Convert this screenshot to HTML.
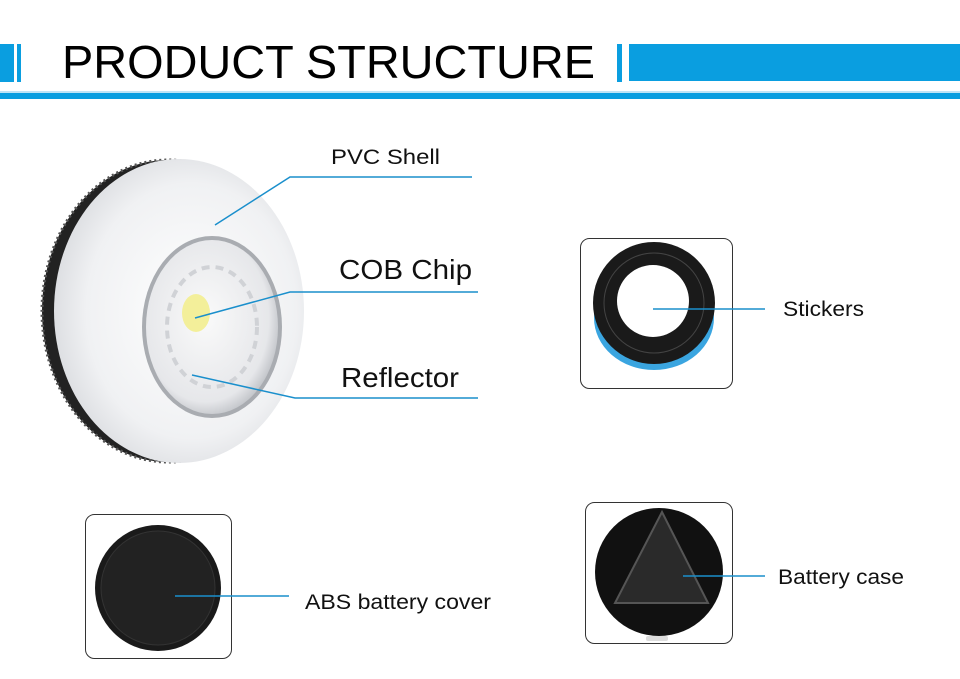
<!DOCTYPE html>
<html><head><meta charset="utf-8"><style>
body{margin:0;background:#fff;width:960px;height:679px;overflow:hidden}
svg{display:block}
</style></head><body>
<svg width="960" height="679" viewBox="0 0 960 679" xmlns="http://www.w3.org/2000/svg" font-family="Liberation Sans, sans-serif">
<defs>
<radialGradient id="body" cx="0.55" cy="0.5" r="0.6"><stop offset="0" stop-color="#ffffff"/><stop offset="0.7" stop-color="#f0f1f3"/><stop offset="1" stop-color="#d6d8dc"/></radialGradient>
<radialGradient id="lens" cx="0.45" cy="0.45" r="0.6"><stop offset="0" stop-color="#fafafa"/><stop offset="0.8" stop-color="#e6e7ea"/><stop offset="1" stop-color="#b8bbc0"/></radialGradient>
</defs>
<rect x="0" y="44" width="14" height="38" fill="#0a9ee0"/>
<rect x="17" y="44" width="4" height="38" fill="#0a9ee0"/>
<text x="62" y="78" font-size="46" fill="#000" textLength="533" lengthAdjust="spacingAndGlyphs">PRODUCT STRUCTURE</text>
<rect x="617" y="44" width="5" height="38" fill="#0a9ee0"/>
<rect x="629" y="44" width="331" height="37" fill="#0a9ee0"/>
<rect x="0" y="93" width="960" height="6" fill="#0a9ee0"/>
<rect x="0" y="91" width="960" height="2" fill="#bfe4f6"/>
<ellipse cx="168" cy="311" rx="126" ry="151" fill="#222"/>
<ellipse cx="168" cy="311" rx="126" ry="151" fill="none" stroke="#555" stroke-width="3" stroke-dasharray="2 3"/>
<ellipse cx="179" cy="311" rx="125" ry="152" fill="url(#body)"/>
<ellipse cx="212" cy="327" rx="70" ry="91" fill="#a9acb1"/>
<ellipse cx="212" cy="327" rx="66" ry="87" fill="url(#lens)"/>
<ellipse cx="212" cy="327" rx="45" ry="60" fill="none" stroke="#d0d2d6" stroke-width="4" stroke-dasharray="8 6"/>
<ellipse cx="196" cy="313" rx="14" ry="19" fill="#f3ef9a"/>
<g stroke="#1a8fcc" stroke-width="1.5" fill="none">
<polyline points="215,225 290,177 472,177"/>
<polyline points="195,318 290,292 478,292"/>
<polyline points="192,375 295,398 478,398"/>
</g>
<text x="331" y="164" font-size="21" fill="#111" textLength="109" lengthAdjust="spacingAndGlyphs">PVC Shell</text>
<text x="339" y="279" font-size="28" fill="#111" textLength="133" lengthAdjust="spacingAndGlyphs">COB Chip</text>
<text x="341" y="387" font-size="28" fill="#111" textLength="118" lengthAdjust="spacingAndGlyphs">Reflector</text>
<rect x="580.5" y="238.5" width="152" height="150" rx="9" fill="#fff" stroke="#333" stroke-width="1"/>
<ellipse cx="654" cy="318" rx="60" ry="52" fill="#3aa5e0"/>
<circle cx="654" cy="303" r="61" fill="#1a1a1a"/>
<circle cx="654" cy="303" r="50" fill="none" stroke="#444" stroke-width="1"/>
<circle cx="653" cy="301" r="36" fill="#fff"/>
<line x1="653" y1="309" x2="765" y2="309" stroke="#1a8fcc" stroke-width="1.5"/>
<text x="783" y="316" font-size="21" fill="#111" textLength="81" lengthAdjust="spacingAndGlyphs">Stickers</text>
<rect x="85.5" y="514.5" width="146" height="144" rx="9" fill="#fff" stroke="#333" stroke-width="1"/>
<circle cx="158" cy="588" r="63" fill="#1a1a1a"/>
<circle cx="158" cy="588" r="57" fill="#222" stroke="#333"/>
<line x1="175" y1="596" x2="289" y2="596" stroke="#1a8fcc" stroke-width="1.5"/>
<text x="305" y="609" font-size="21" fill="#111" textLength="186" lengthAdjust="spacingAndGlyphs">ABS battery cover</text>
<rect x="585.5" y="502.5" width="147" height="141" rx="9" fill="#fff" stroke="#333" stroke-width="1"/>
<circle cx="659" cy="572" r="64" fill="#111"/>
<polygon points="662,512 615,603 708,603" fill="#2a2a2a" stroke="#555" stroke-width="2"/>
<rect x="646" y="636" width="22" height="5" rx="2" fill="#ddd"/>
<line x1="683" y1="576" x2="765" y2="576" stroke="#1a8fcc" stroke-width="1.5"/>
<text x="778" y="584" font-size="21" fill="#111" textLength="126" lengthAdjust="spacingAndGlyphs">Battery case</text>
</svg>
</body></html>
